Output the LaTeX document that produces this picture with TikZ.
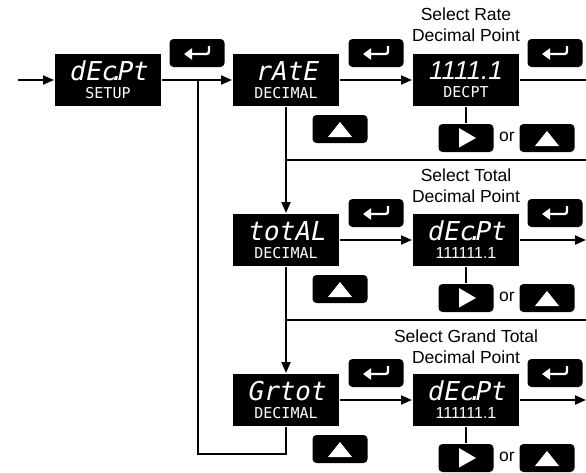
\documentclass[tikz,border=0pt]{standalone}
\usepackage{fontspec}
\setmainfont{Liberation Sans}
\newfontfamily\lcdfont{DejaVu Sans Mono}
\newfontfamily\lcdslant[FakeSlant=0.2]{DejaVu Sans Mono}
\usetikzlibrary{arrows.meta}

\newcommand{\lcdbig}{\lcdslant\fontsize{26}{18}\selectfont}
\newcommand{\lcdsmall}{\lcdfont\fontsize{15}{18}\selectfont}
\newcommand{\numbig}{\itshape\fontsize{26}{18}\selectfont}
\newcommand{\numsmall}{\fontsize{16}{18}\selectfont}
\newcommand{\dpt}{\makebox[0pt]{.}}

\tikzset{
	lcd/.style={fill=black, text=white, minimum width=106, minimum height=52, inner sep=0pt, align=center, font=\fontsize{15}{18}\selectfont},
	btn/.style={fill=black, rounded corners=4pt, minimum width=55, minimum height=28, inner sep=0pt},
	enterbtn/.style={btn, path picture={
		\draw [white, line width=2.4pt, rounded corners=2.5pt, -{Triangle[length=8pt, width=11pt]}]
			([shift={(12,-7)}]path picture bounding box.center) -- ++(0,8) -- ++(-25,0);}},
	upbtn/.style={btn, path picture={
		\fill [white, sharp corners] ([shift={(0,-7)}]path picture bounding box.center)
			-- ++(12,15) -- ++(-24,0) -- cycle;}},
	rightbtn/.style={btn, path picture={
		\fill [white, sharp corners] ([shift={(-7,-10)}]path picture bounding box.center)
			-- ++(0,19.5) -- ++(17,-9.5) -- cycle;}},
	caption/.style={align=center, inner sep=0pt, font=\fontsize{17.5}{21}\selectfont},
}

\begin{document}
\begin{tikzpicture}[x=1pt, y=-1pt, line width=2pt, >={Triangle[length=11pt, width=9pt]}]
	\useasboundingbox (0,0) rectangle (586,472);
	% displays
	\node [lcd] (setup) at (108,80) {{\lcdbig dEc\dpt Pt}\\{\lcdsmall SETUP}};
	\node [lcd] (rate) at (286,80) {{\lcdbig rAtE}\\{\lcdsmall DECIMAL}};
	\node [lcd] (ratedp) at (466,80) {{\numbig 1111.1}\\{\lcdsmall DECPT}};
	\node [lcd] (total) at (286,240) {{\lcdbig totAL}\\{\lcdsmall DECIMAL}};
	\node [lcd] (totaldp) at (466,240) {{\lcdbig dEc\dpt Pt}\\{\numsmall 111111.1}};
	\node [lcd] (grand) at (286,400) {{\lcdbig Grtot}\\{\lcdsmall DECIMAL}};
	\node [lcd] (granddp) at (466,400) {{\lcdbig dEc\dpt Pt}\\{\numsmall 111111.1}};
	% captions
	\node [caption] (capRate) at (466,25) {Select Rate\\Decimal Point};
	\node [caption] (capTotal) at (466,186) {Select Total\\Decimal Point};
	\node [caption] (capGrand) at (466,347) {Select Grand Total\\Decimal Point};
	% keys
	\node [enterbtn] (kSetup) at (197,53) {};
	\node [enterbtn] (kRate) at (376,53) {};
	\node [enterbtn] (kRateDp) at (555,53) {};
	\node [enterbtn] (kTotal) at (376,213) {};
	\node [enterbtn] (kTotalDp) at (555,213) {};
	\node [enterbtn] (kGrand) at (376,373) {};
	\node [enterbtn] (kGrandDp) at (555,373) {};
	\node [upbtn] (upRate) at (340,129) {};
	\node [upbtn] (upTotal) at (340,289) {};
	\node [upbtn] (upGrand) at (340,449) {};
	\node [rightbtn] (rtRateDp) at (466,138) {};
	\node [caption] (orRate) at (507,137) {or};
	\node [upbtn] (upRateDp) at (547,138) {};
	\node [rightbtn] (rtTotalDp) at (466,298) {};
	\node [caption] (orTotal) at (507,297) {or};
	\node [upbtn] (upTotalDp) at (547,298) {};
	\node [rightbtn] (rtGrandDp) at (466,458) {};
	\node [caption] (orGrand) at (507,457) {or};
	\node [upbtn] (upGrandDp) at (547,458) {};
	% connectors
	\coordinate (in) at (18,80);
	\coordinate (out1) at (586,80);
	\coordinate (out2) at (586,240);
	\coordinate (out3) at (586,400);
	\coordinate (back1) at (586,160);
	\coordinate (back2) at (586,320);
	\coordinate (loop) at (198,454);
	\draw [->] (in) -- (setup);
	\draw [->] (setup) -- (rate);
	\draw [->] (rate) -- (ratedp);
	\draw (ratedp) -- (out1);
	\draw [->] (rate) -- (total);
	\draw [->] (total) -- (totaldp);
	\draw [->] (totaldp) -- (out2);
	\draw [->] (total) -- (grand);
	\draw [->] (grand) -- (granddp);
	\draw [->] (granddp) -- (out3);
	\draw (rate.south |- back1) -- (back1);
	\draw (total.south |- back2) -- (back2);
	\draw (ratedp) -- (rtRateDp);
	\draw (totaldp) -- (rtTotalDp);
	\draw (granddp) -- (rtGrandDp);
	\draw (grand) |- (loop) -- (loop |- setup);
\end{tikzpicture}
\end{document}
